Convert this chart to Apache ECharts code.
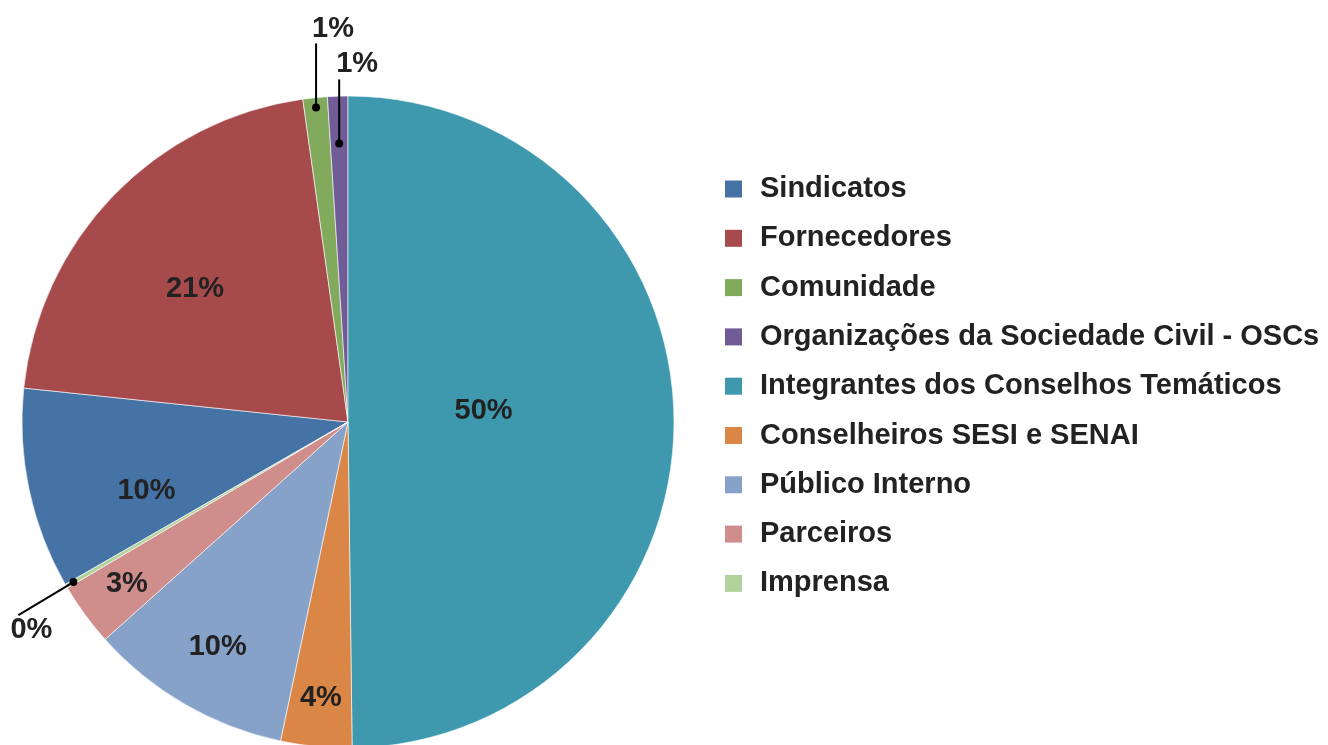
<!DOCTYPE html>
<html>
<head>
<meta charset="utf-8">
<script src="https://cdn.jsdelivr.net/npm/echarts@6/dist/echarts.min.js"></script>
<style>
html,body{margin:0;padding:0;background:#fff;}
#main{width:1328px;height:745px;}
</style>
</head>
<body>
<div id="main"></div>
<script>
// categorias na ordem da legenda
var categories = ['Sindicatos', 'Fornecedores', 'Comunidade', 'Organizações da Sociedade Civil - OSCs',
    'Integrantes dos Conselhos Temáticos', 'Conselheiros SESI e SENAI', 'Público Interno', 'Parceiros', 'Imprensa'];
// valores em %
var values = [9.9, 21.0, 1.2, 1.0, 49.5, 3.5, 10.0, 3.1, 0.2];
var colors = ['#4673A6', '#A64A4B', '#82AA5C', '#705C96', '#3E99AE', '#DA8646', '#87A2C9', '#CF8D8C', '#B2D29C'];

// estilo dos rótulos
var cx = 348, cy = 422, R = 326;
var labelDist = [213, 203, 0, 0, 136, 277, 260, 274, 0];   // distância do centro (px)
var labelTurn = [6.9, 2.9, 0, 0, 4.1, 0, 0, 0, 0];          // desvio do ângulo médio (graus)
var outLabel = {
    2: {dot: 0.97, line: [0, -64], text: [17, -14]},
    3: {dot: 0.855, line: [0, -64], text: [18, -15]},
    8: {dot: 0.975, line: [-55, 33], text: [13, 15]}
};
var font = 'Liberation Sans, Arial, Helvetica, sans-serif';

var total = 0;
for (var i = 0; i < values.length; i++) total += values[i];
// Integrantes começa no topo
var before = 0;
for (var i = 0; i < 4; i++) before += values[i];
var startAngle = 90 + 360 * before / total;

//ângulo médio da fatia
function midAngle(idx) {
    var cum = 0;
    for (var i = 0; i < idx; i++) cum += values[i];
    return startAngle - 360 * (cum + values[idx] / 2) / total;
}
function polar(idx, r, turn) {
    var a = (midAngle(idx) + (turn || 0)) * Math.PI / 180;
    return [cx + r * Math.cos(a), cy - r * Math.sin(a)];
}

var pieData = [];
for (var i = 0; i < categories.length; i++) {
    pieData.push({
        name: categories[i],
        value: values[i],
        label: {position: outLabel[i] ? 'outside' : 'inside'}
    });
}

// linhas de chamada com ponto
var leaders = [];
for (var k in outLabel) {
    var o = outLabel[k];
    var d = polar(+k, R * o.dot);
    var e = [d[0] + o.line[0], d[1] + o.line[1]];
    leaders.push({
        type: 'polyline', z: 10, silent: true,
        shape: {points: [d, e]},
        style: {stroke: '#000', lineWidth: 2, fill: null}
    });
    leaders.push({
        type: 'circle', z: 11, silent: true,
        shape: {cx: d[0], cy: d[1], r: 4},
        style: {fill: '#000'}
    });
}

var chartDom = document.getElementById('main');
var myChart = echarts.init(chartDom);
var option = {
    color: colors,
    animation: false,
    legend: {
        orient: 'vertical',
        left: 725,
        top: 174,
        padding: 0,
        icon: 'rect',
        itemWidth: 17,
        itemHeight: 17,
        itemGap: 19.3,
        itemStyle: {borderWidth: 0},
        data: categories,
        textStyle: {
            fontSize: 29,
            fontWeight: 'bold',
            color: '#222',
            fontFamily: font,
            lineHeight: 30,
            padding: [0, 0, 0, 13]
        }
    },
    graphic: leaders,
    series: [
        {
            type: 'pie',
            center: [cx, cy],
            radius: R,
            startAngle: startAngle,
            avoidLabelOverlap: false,
            itemStyle: {borderColor: '#fff', borderWidth: 0.6},
            label: {
                show: true,
                fontSize: 29,
                fontWeight: 'bold',
                color: '#222',
                fontFamily: font,
                formatter: function (p) { return Math.round(p.value) + '%'; }
            },
            labelLine: {show: false},
            labelLayout: function (params) {
                var i = params.dataIndex;
                if (outLabel[i]) {
                    var o = outLabel[i];
                    var d = polar(i, R * o.dot);
                    return {
                        x: d[0] + o.line[0] + o.text[0],
                        y: d[1] + o.line[1] + o.text[1],
                        align: 'center', verticalAlign: 'middle'
                    };
                }
                var p = polar(i, labelDist[i], labelTurn[i]);
                return {x: p[0], y: p[1], align: 'center', verticalAlign: 'middle'};
            },
            data: pieData
        }
    ]
};
option && myChart.setOption(option);
</script>
</body>
</html>
